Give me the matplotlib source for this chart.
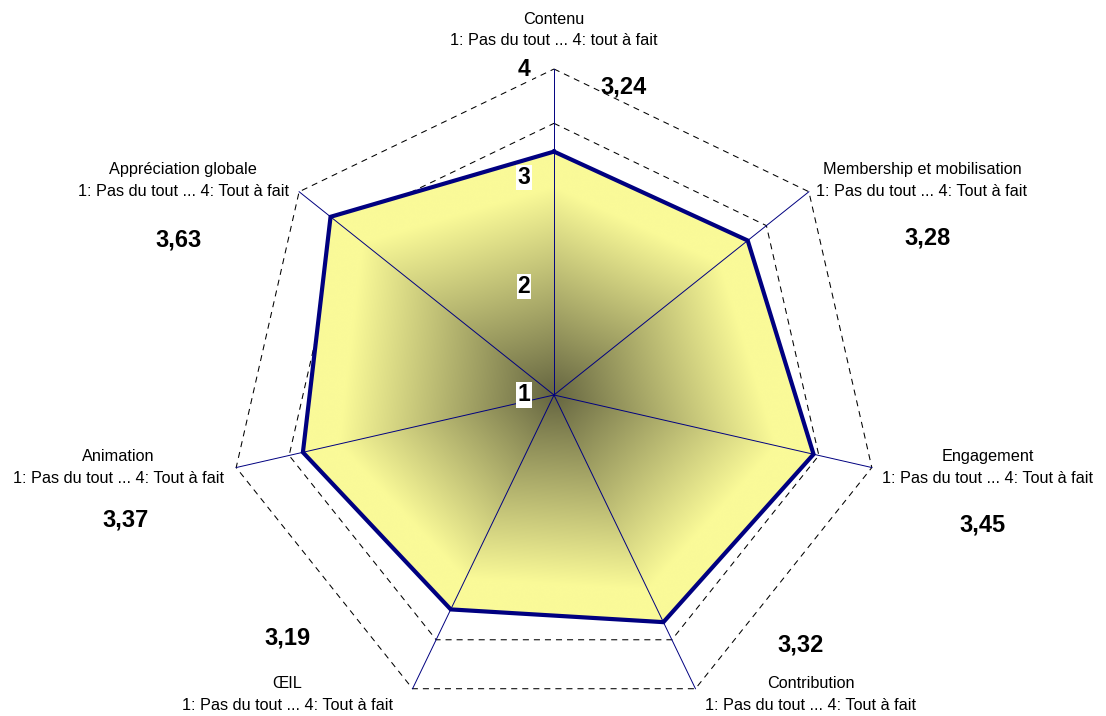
import numpy as np
import matplotlib
matplotlib.use("Agg")
import matplotlib.pyplot as plt
from matplotlib.patches import Polygon

plt.rcParams['font.family'] = ['Liberation Sans', 'DejaVu Sans']

# données
categories = ["Contenu", "Membership et mobilisation", "Engagement", "Contribution",
              "\u0152IL", "Animation", "Appr\u00e9ciation globale"]
scales = ["1: Pas du tout ... 4: tout \u00e0 fait"] + ["1: Pas du tout ... 4: Tout \u00e0 fait"] * 6
values = [3.24, 3.28, 3.45, 3.32, 3.19, 3.37, 3.63]
value_labels = ["3,24", "3,28", "3,45", "3,32", "3,19", "3,37", "3,63"]
ticks = [1, 2, 3, 4]
grid_levels = [3.5, 4]
vmin = 1

# décalages (pixels) des étiquettes par rapport au sommet extérieur
cat_offsets = [(0, 39), (113, 11), (116, 0), (115, -6), (-125, -6), (-118, 0), (-116, 11)]
val_offsets = [(70, -18), (119, -46), (111, -57), (105, 44), (-125, 51), (-111, -52), (-121, -48)]

W, H = 1106, 716
DPI = 100
cx, cy = 554, 395          # centre en pixels
px_per_unit = 326 / 3.0

fig = plt.figure(figsize=(W / DPI, H / DPI), dpi=DPI)
ax = fig.add_axes([0, 0, 1, 1])
ax.set_xlim(-cx / px_per_unit, (W - cx) / px_per_unit)
ax.set_ylim(-(H - cy) / px_per_unit, cy / px_per_unit)
ax.axis('off')

n = len(categories)
theta = np.arange(n) * 2 * np.pi / n


def to_xy(vals):
    r = np.asarray(vals, dtype=float) - vmin
    return r * np.sin(theta), r * np.cos(theta)


navy = '#000080'

# grille pointillée
for lev in grid_levels:
    gx, gy = to_xy([lev] * n)
    ax.plot(np.append(gx, gx[0]), np.append(gy, gy[0]), color='black', lw=0.75,
            dashes=(5.8, 4.8), zorder=1)

# polygone des données avec dégradé
dx, dy = to_xy(values)
poly = Polygon(np.column_stack([dx, dy]), closed=True, facecolor='none', edgecolor='none')
ax.add_patch(poly)

xs = np.linspace(-3, 3, 700)
ys = np.linspace(-3, 3, 700)
X, Y = np.meshgrid(xs, ys)
ang = np.mod(np.arctan2(X, Y), 2 * np.pi)
k = np.floor(ang / (2 * np.pi / n)).astype(int) % n
P0 = np.column_stack([dx, dy])[k]
P1 = np.column_stack([dx, dy])[(k + 1) % n]
E = P1 - P0
d = np.stack([np.sin(ang), np.cos(ang)], axis=-1)
s = (P0[..., 0] * E[..., 1] - P0[..., 1] * E[..., 0]) / (d[..., 0] * E[..., 1] - d[..., 1] * E[..., 0])
t = np.hypot(X, Y) / s
t = np.clip(t / 0.86, 0, 1) ** 0.95
dark = np.array([100, 100, 64]) / 255
light = np.array([250, 250, 152]) / 255
img = dark + (light - dark) * t[..., None]
im = ax.imshow(img, extent=(-3, 3, -3, 3), origin='lower', zorder=2, interpolation='bilinear')
im.set_clip_path(poly)

# rayons
ox, oy = to_xy([ticks[-1]] * n)
for i in range(n):
    ax.plot([0, ox[i]], [0, oy[i]], color=navy, lw=0.7, zorder=3)

ax.plot(np.append(dx, dx[0]), np.append(dy, dy[0]), color=navy, lw=3, zorder=4,
        solid_joinstyle='miter')

# graduations
for tv in ticks:
    ax.annotate(str(tv), xy=(0, tv - vmin), xytext=(-30, 0), textcoords='offset pixels',
                ha='center', va='center', fontsize=16.5, fontweight='bold', zorder=5,
                bbox=dict(boxstyle='square,pad=0.05', fc='white', ec='none'))

# étiquettes
for i in range(n):
    ax.annotate(categories[i] + "\n" + scales[i], xy=(ox[i], oy[i]), xytext=cat_offsets[i],
                textcoords='offset pixels', ha='center', va='center', fontsize=11.7,
                linespacing=1.55, multialignment='center', zorder=5)
    ax.annotate(value_labels[i], xy=(ox[i], oy[i]), xytext=val_offsets[i],
                textcoords='offset pixels', ha='center', va='center', fontsize=17,
                fontweight='bold', zorder=5)

fig.savefig("out.png", dpi=DPI)
